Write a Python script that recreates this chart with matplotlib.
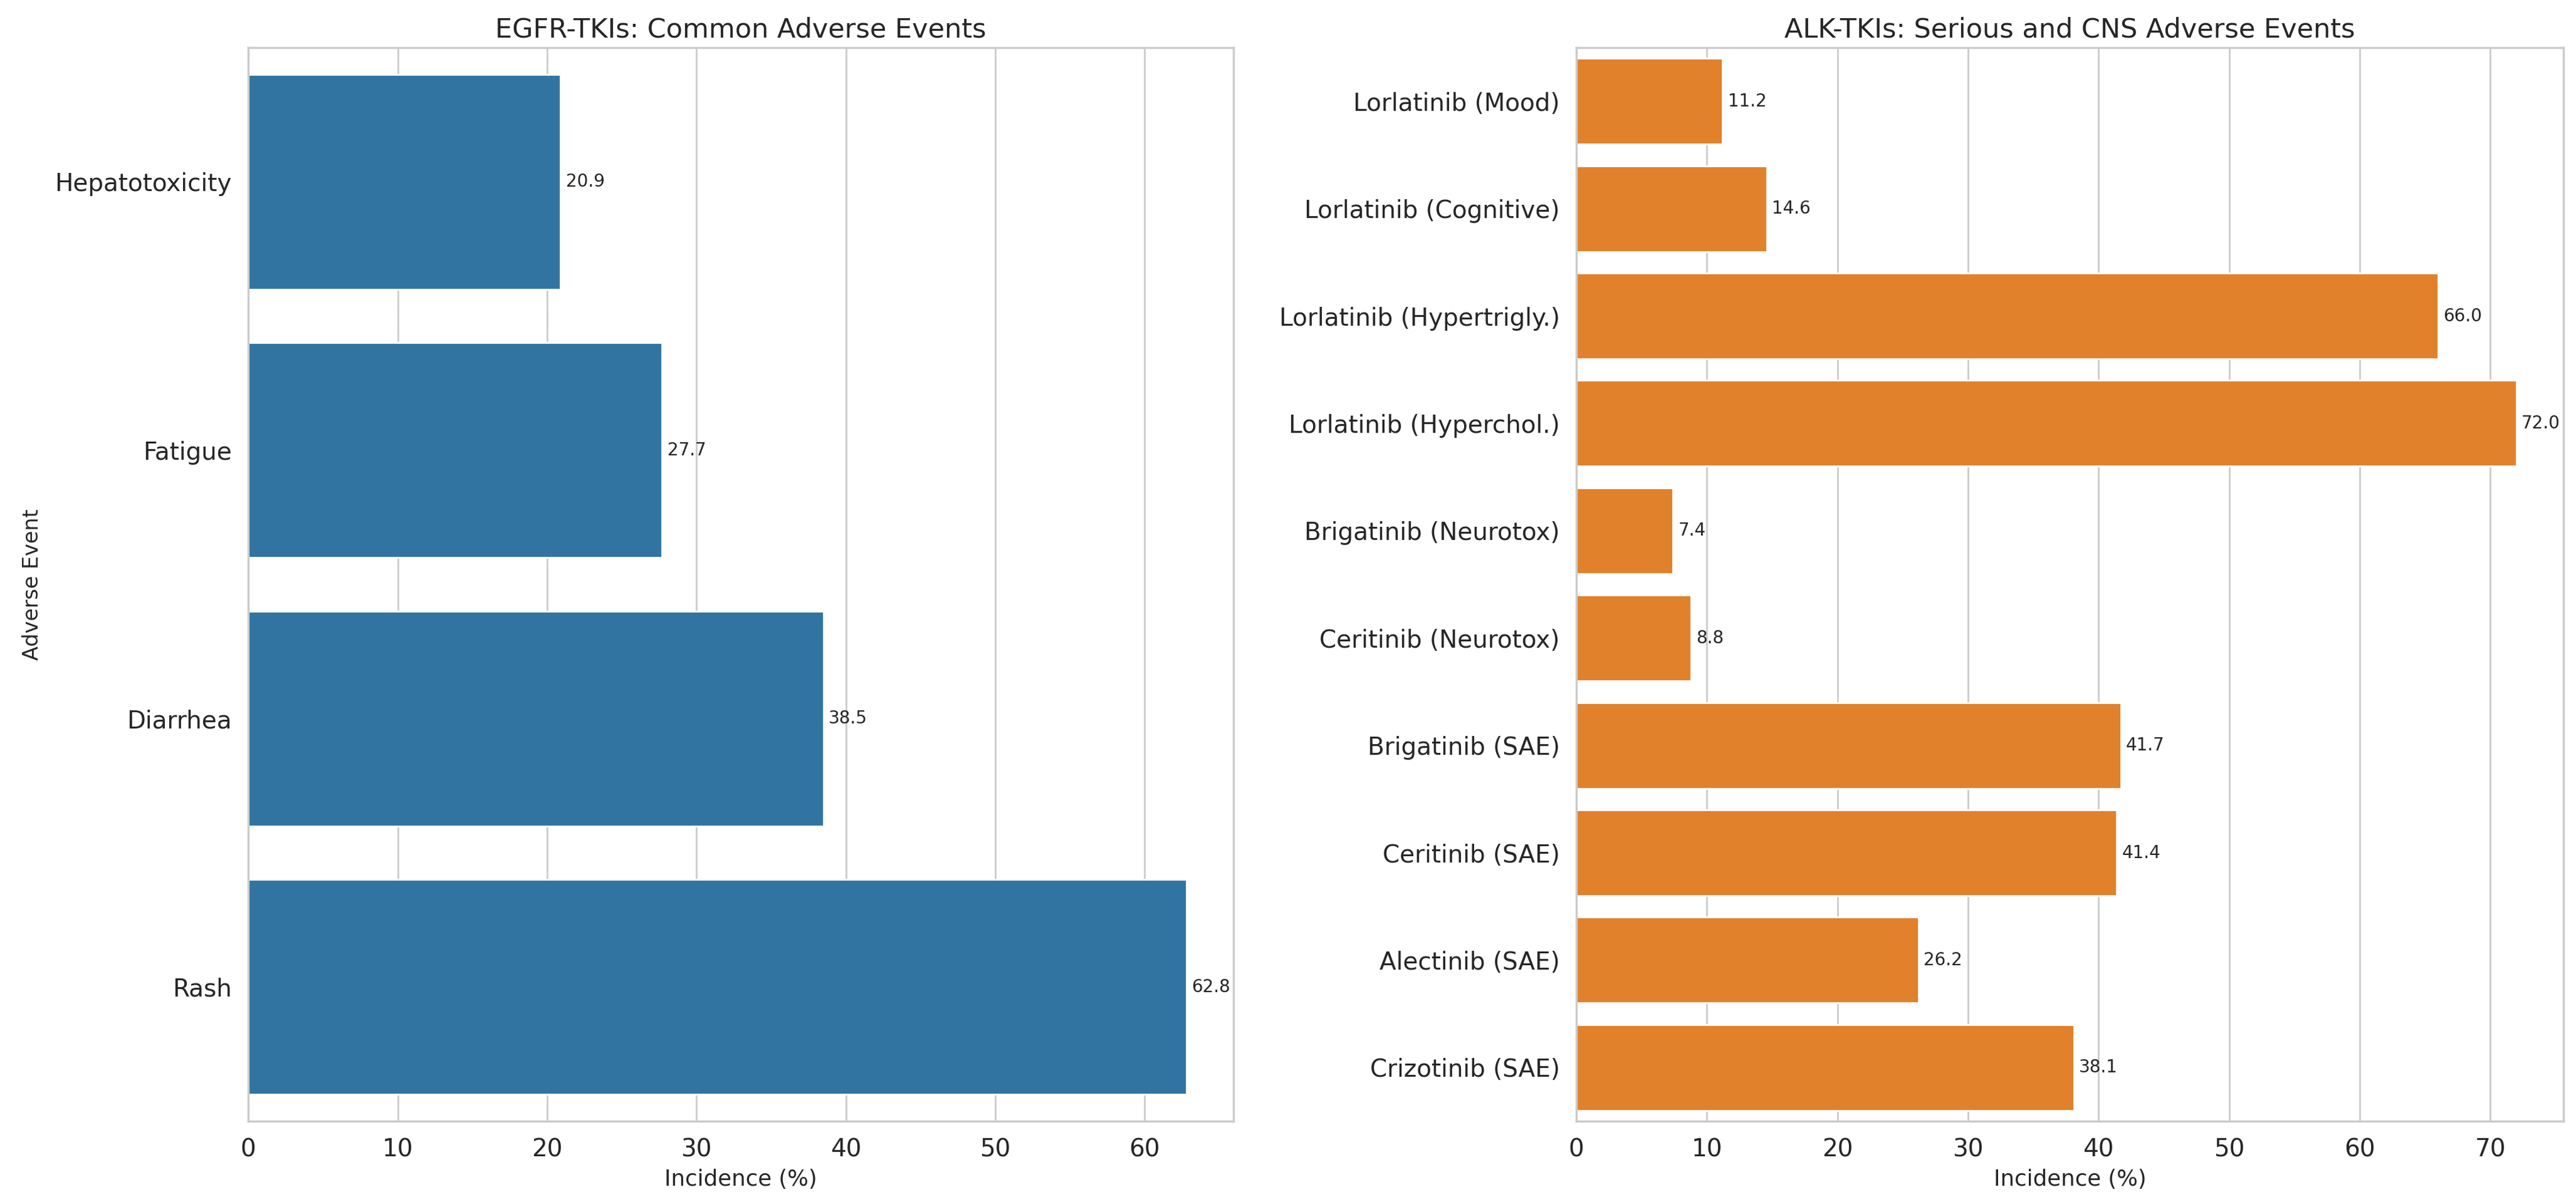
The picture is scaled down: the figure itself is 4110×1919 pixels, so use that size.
import matplotlib
matplotlib.use("Agg")
import matplotlib.pyplot as plt
import seaborn as sns

# EGFR-TKIs data
egfr_events = ["Hepatotoxicity", "Fatigue", "Diarrhea", "Rash"]
egfr_values = [20.9, 27.7, 38.5, 62.8]

# ALK-TKIs data
alk_events = [
    "Lorlatinib (Mood)",
    "Lorlatinib (Cognitive)",
    "Lorlatinib (Hypertrigly.)",
    "Lorlatinib (Hyperchol.)",
    "Brigatinib (Neurotox)",
    "Ceritinib (Neurotox)",
    "Brigatinib (SAE)",
    "Ceritinib (SAE)",
    "Alectinib (SAE)",
    "Crizotinib (SAE)",
]
alk_values = [11.2, 14.6, 66.0, 72.0, 7.4, 8.8, 41.7, 41.4, 26.2, 38.1]

sns.set_theme(style="whitegrid")

fig, (ax1, ax2) = plt.subplots(1, 2, figsize=(20.55, 9.595), dpi=200)

sns.barplot(x=egfr_values, y=egfr_events, ax=ax1, color="#1f77b4")
ax1.set_title("EGFR-TKIs: Common Adverse Events", fontsize=15.5)
ax1.set_xlabel("Incidence (%)", fontsize=12.8)
ax1.set_ylabel("Adverse Event", fontsize=12, labelpad=7)
ax1.bar_label(ax1.containers[0], fmt="%.1f", padding=3, fontsize=10, color="#262626")

sns.barplot(x=alk_values, y=alk_events, ax=ax2, color="#ff7f0e")
ax2.set_title("ALK-TKIs: Serious and CNS Adverse Events", fontsize=15.5)
ax2.set_xlabel("Incidence (%)", fontsize=12.8)
ax2.set_ylabel("")
ax2.bar_label(ax2.containers[0], fmt="%.1f", padding=3, fontsize=10, color="#262626")

for ax in (ax1, ax2):
    ax.tick_params(axis="both", labelsize=14)

ax1.set_position([0.0964, 0.0672, 0.3824, 0.8932])
ax2.set_position([0.6119, 0.0672, 0.3832, 0.8932])

fig.savefig("out.png", dpi=200)
